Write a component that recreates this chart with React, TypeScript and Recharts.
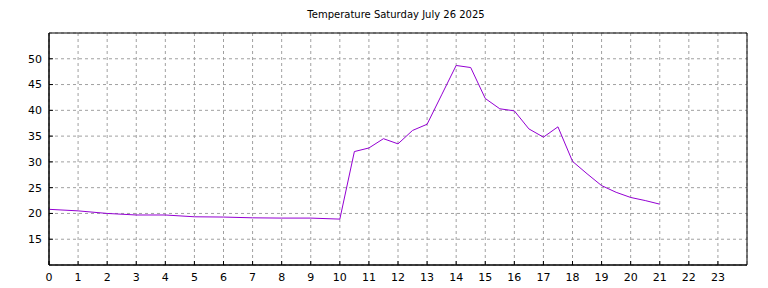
import { LineChart, Line, XAxis, YAxis, CartesianGrid, ReferenceArea } from "recharts";

const hours = [0, 1, 2, 3, 4, 5, 6, 7, 8, 9, 10, 10.5, 11, 11.5, 12, 12.5, 13, 13.5, 14, 14.5, 15, 15.5, 16, 16.5, 17, 17.5, 18, 18.5, 19, 19.5, 20, 20.5, 21];
const temps = [20.8, 20.5, 20.0, 19.7, 19.7, 19.35, 19.3, 19.15, 19.1, 19.1, 18.9, 32.0, 32.7, 34.5, 33.5, 36.1, 37.3, 43.0, 48.7, 48.3, 42.3, 40.3, 39.9, 36.4, 34.8, 36.8, 30.1, 27.7, 25.4, 24.1, 23.1, 22.5, 21.8];
const xTicks = [0, 1, 2, 3, 4, 5, 6, 7, 8, 9, 10, 11, 12, 13, 14, 15, 16, 17, 18, 19, 20, 21, 22, 23];
const yTicks = [15, 20, 25, 30, 35, 40, 45, 50];

const data = hours.map((h, i) => ({ h, t: temps[i] }));

const tickStyle = { fontSize: 11, fill: "#000", fontFamily: "DejaVu Sans" };

export default function App() {
  return (
    <div style={{ position: "absolute", left: 0, top: 0, width: 768, height: 288, background: "#fff" }}>
      <div
        style={{
          position: "absolute",
          left: 0,
          width: 768,
          top: 9,
          textAlign: "center",
          fontFamily: "DejaVu Sans",
          fontSize: 10,
          color: "#000",
          paddingLeft: 24,
          boxSizing: "border-box",
        }}
      >
        Temperature Saturday July 26 2025
      </div>
      <LineChart width={768} height={288} data={data} margin={{ top: 33, right: 21, bottom: 0, left: 0 }}>
        <CartesianGrid stroke="#a0a0a0" strokeDasharray="3 3" />
        <XAxis
          dataKey="h"
          type="number"
          domain={[0, 24]}
          ticks={xTicks}
          interval={0}
          height={23}
          tick={tickStyle}
          tickLine={{ stroke: "#000" }}
          tickSize={-4}
          axisLine={{ stroke: "#000" }}
          tickMargin={12}
        />
        <XAxis
          xAxisId="top"
          orientation="top"
          dataKey="h"
          type="number"
          domain={[0, 24]}
          ticks={xTicks}
          interval={0}
          height={0}
          tick={false}
          tickLine={{ stroke: "#000" }}
          tickSize={-4}
          axisLine={false}
        />
        <YAxis
          type="number"
          domain={[10, 55]}
          ticks={yTicks}
          interval={0}
          width={49}
          tick={tickStyle}
          tickLine={{ stroke: "#000" }}
          tickSize={-4}
          axisLine={{ stroke: "#000" }}
          tickMargin={11}
        />
        <YAxis
          yAxisId="right"
          orientation="right"
          type="number"
          domain={[10, 55]}
          ticks={yTicks}
          interval={0}
          width={0}
          tick={false}
          tickLine={{ stroke: "#000" }}
          tickSize={-4}
          axisLine={false}
        />
        <ReferenceArea x1={0} x2={24} y1={10} y2={55} fill="none" stroke="#000" strokeWidth={1} />
        <Line dataKey="t" stroke="#9400d3" strokeWidth={1} dot={false} isAnimationActive={false} />
      </LineChart>
    </div>
  );
}
